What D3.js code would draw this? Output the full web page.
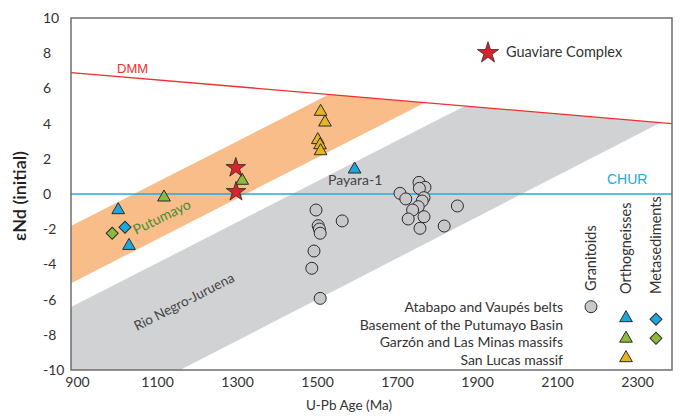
<!DOCTYPE html>
<html>
<head>
<meta charset="utf-8">
<script src="https://cdn.jsdelivr.net/npm/d3@7"></script>
<style>
  html, body { margin: 0; padding: 0; background: #fff; }
  svg { display: block; font-family: Lato, "Open Sans", sans-serif; }
</style>
</head>
<body>
<svg id="chart" width="683" height="416"></svg>
<script>
// Axis ticks
const ageTicks = [900, 1100, 1300, 1500, 1700, 1900, 2100, 2300];
const epsTicks = [10, 8, 6, 4, 2, 0, -2, -4, -6, -8, -10];

// Reference evolution lines [age Ma, εNd]
const dmmLine = [[885, 6.9], [2387.5, 4.0]];
const churLine = [[885, 0], [2387.5, 0]];

// Crustal envelopes: upper and lower bounding lines
const putumayoUpper = [[885, -1.82], [1900, 9.95]];
const putumayoLower = [[885, -5.07], [1900, 6.70]];
const rioNegroUpper = [[885, -6.42], [2400, 11.15]];
const rioNegroLower = [[885, -13.19], [2400, 4.54]];

// Atabapo and Vaupés belts — granitoids
const atabapoAge = [1497.5, 1563, 1503, 1506, 1508, 1492.5, 1487, 1508,
                    1755, 1770, 1756, 1707.5, 1722, 1767.5, 1763, 1753, 1739, 1851, 1728, 1767.5, 1757.5, 1818];
const atabapoEps = [-0.91, -1.53, -1.80, -1.99, -2.23, -3.24, -4.22, -5.93,
                    0.66, 0.38, 0.32, 0.04, -0.28, -0.21, -0.40, -0.72, -0.91, -0.68, -1.42, -1.29, -1.95, -1.82];

// Basement of the Putumayo Basin
const putumayoOrthoAge = [1003, 1030, 1594];
const putumayoOrthoEps = [-0.91, -2.94, 1.40];
const putumayoMetaAge = [1020];
const putumayoMetaEps = [-1.89];

// Garzón and Las Minas massifs
const garzonOrthoAge = [1117.5, 1313];
const garzonOrthoEps = [-0.19, 0.76];
const garzonMetaAge = [988];
const garzonMetaEps = [-2.23];

// San Lucas massif
const sanLucasOrthoAge = [1509, 1520, 1502, 1507.5, 1509];
const sanLucasOrthoEps = [4.68, 4.07, 3.07, 2.78, 2.44];

// Guaviare Complex
const guaviareAge = [1297, 1297.5];
const guaviareEps = [1.49, 0.13];

const legendRows = ["Atabapo and Vaupés belts", "Basement of the Putumayo Basin",
                    "Garzón and Las Minas massifs", "San Lucas massif"];
const legendCols = ["Granitoids", "Orthogneisses", "Metasediments"];

const C = {
  blue: "#1ea7df", green: "#8cba3c", yellow: "#e6b422", red: "#d9222b",
  grayPt: "#c8c8ca", orange: "#f8bd89", grayBand: "#d1d2d4",
  dmm: "#ee2f2f", chur: "#25a8de", stroke: "#2b2b2b"
};

const svg = d3.select("#chart");
const L = 71, R = 672, T = 18, B = 370;
const x = d3.scaleLinear().domain([885, 2387.5]).range([L, R]);
const y = d3.scaleLinear().domain([-10, 10]).range([B, T]);

// Clip to the plot area below the DMM curve
svg.append("clipPath").attr("id", "belowDmm")
  .append("polygon")
  .attr("points", [
    [x(dmmLine[0][0]), y(dmmLine[0][1])],
    [x(dmmLine[1][0]), y(dmmLine[1][1])],
    [x(dmmLine[1][0]), y(-10)],
    [x(dmmLine[0][0]), y(-10)]
  ].map(p => p.join(",")).join(" "));

function band(upper, lower, fill) {
  const pts = [upper[0], upper[1], lower[1], lower[0]];
  svg.append("polygon")
    .attr("clip-path", "url(#belowDmm)")
    .attr("points", pts.map(p => [x(p[0]), y(p[1])].join(",")).join(" "))
    .attr("fill", fill);
}
band(rioNegroUpper, rioNegroLower, C.grayBand);
band(putumayoUpper, putumayoLower, C.orange);

const line = d3.line().x(d => x(d[0])).y(d => y(d[1]));
svg.append("path").attr("d", line(dmmLine)).attr("stroke", C.dmm).attr("stroke-width", 1.3).attr("fill", "none");
svg.append("path").attr("d", line(churLine)).attr("stroke", C.chur).attr("stroke-width", 1.3).attr("fill", "none");

// Frame
svg.append("rect").attr("x", L).attr("y", T).attr("width", R - L).attr("height", B - T)
  .attr("fill", "none").attr("stroke", "#6d6d6d").attr("stroke-width", 1.5);

// Axes
const xAxis = svg.append("g").attr("transform", `translate(0,${B})`)
  .call(d3.axisBottom(x).tickValues(ageTicks).tickSize(0).tickPadding(7).tickFormat(d3.format("d")));
xAxis.select(".domain").remove();
xAxis.selectAll("text").attr("font-size", 14).attr("fill", "#333").attr("font-family", "Lato, sans-serif");

const yAxis = svg.append("g").attr("transform", `translate(${L},0)`)
  .call(d3.axisLeft(y).tickValues(epsTicks).tickSize(0).tickFormat(d3.format("d")));
yAxis.select(".domain").remove();
yAxis.selectAll("text").attr("font-size", 14).attr("fill", "#333").attr("font-family", "Lato, sans-serif")
  .attr("text-anchor", "start").attr("x", 43 - L).text(d => d < 0 ? "-" + Math.abs(d) : d);

svg.append("text").attr("x", 349).attr("y", 410).attr("text-anchor", "middle")
  .attr("font-size", 13.5).attr("fill", "#333").text("U-Pb Age (Ma)");
svg.append("text").attr("transform", "translate(26,196) rotate(-90)").attr("text-anchor", "middle")
  .attr("font-size", 18).attr("font-weight", 600).attr("fill", "#222").text("εNd (initial)");

// Line labels
svg.append("text").attr("x", 117).attr("y", 73).attr("font-family", "'Liberation Sans', Arial, sans-serif")
  .attr("font-size", 13).attr("fill", C.dmm).text("DMM");
svg.append("text").attr("x", 607).attr("y", 184).attr("font-family", "'Liberation Sans', Arial, sans-serif")
  .attr("font-size", 14).attr("fill", C.chur).text("CHUR");
svg.append("text").attr("x", 328).attr("y", 185).attr("font-size", 14).attr("fill", "#444").text("Payara-1");
svg.append("text").attr("transform", "translate(136,235) rotate(-26)")
  .attr("font-size", 14).attr("fill", "#4a8a35").text("Putumayo");
svg.append("text").attr("transform", "translate(137,331) rotate(-27)")
  .attr("font-size", 13.5).attr("fill", "#444").text("Rio Negro-Juruena");

// Markers
const sym = (type, size) => d3.symbol().type(type).size(size)();
function plotPoints(ages, eps, kind, fill) {
  const g = svg.append("g");
  ages.forEach((a, i) => {
    const cx = x(a), cy = y(eps[i]);
    if (kind === "circle") {
      g.append("circle").attr("cx", cx).attr("cy", cy).attr("r", 6)
        .attr("fill", fill).attr("stroke", C.stroke).attr("stroke-width", 1);
    } else if (kind === "triangle") {
      g.append("path").attr("d", sym(d3.symbolTriangle, 70)).attr("transform", `translate(${cx},${cy})`)
        .attr("fill", fill).attr("stroke", C.stroke).attr("stroke-width", 1);
    } else if (kind === "diamond") {
      g.append("path").attr("d", sym(d3.symbolSquare, 72)).attr("transform", `translate(${cx},${cy}) rotate(45)`)
        .attr("fill", fill).attr("stroke", C.stroke).attr("stroke-width", 1);
    } else if (kind === "star") {
      g.append("path").attr("d", sym(d3.symbolStar, 120)).attr("transform", `translate(${cx},${cy})`)
        .attr("fill", fill).attr("stroke", C.stroke).attr("stroke-width", 0.8);
    }
  });
}
plotPoints(atabapoAge, atabapoEps, "circle", C.grayPt);
plotPoints(sanLucasOrthoAge, sanLucasOrthoEps, "triangle", C.yellow);
plotPoints(garzonOrthoAge, garzonOrthoEps, "triangle", C.green);
plotPoints(guaviareAge, guaviareEps, "star", C.red);
plotPoints(putumayoOrthoAge, putumayoOrthoEps, "triangle", C.blue);
plotPoints(putumayoMetaAge, putumayoMetaEps, "diamond", C.blue);
plotPoints(garzonMetaAge, garzonMetaEps, "diamond", C.green);

// Guaviare legend
svg.append("path").attr("d", sym(d3.symbolStar, 140)).attr("transform", "translate(488,53)")
  .attr("fill", C.red).attr("stroke", C.stroke).attr("stroke-width", 0.8);
svg.append("text").attr("x", 506).attr("y", 57).attr("font-size", 14.5).attr("fill", "#333").text("Guaviare Complex");

// Lithology legend
const rowY = [312, 329.5, 347, 364.5];
const colX = [591, 626, 656];
legendRows.forEach((t, i) => {
  svg.append("text").attr("x", 563).attr("y", rowY[i]).attr("text-anchor", "end")
    .attr("font-size", 14).attr("fill", "#333").text(t);
});
legendCols.forEach((t, i) => {
  svg.append("text").attr("transform", `translate(${colX[i]},${i === 0 ? 291 : 294}) rotate(-90)`)
    .attr("dy", "0.35em").attr("font-size", 14.5).attr("fill", "#333").text(t);
});
const legendMarks = [
  [0, 306.7, "circle", C.grayPt],
  [1, 318, "triangle", C.blue], [1, 338.5, "triangle", C.green], [1, 358, "triangle", C.yellow],
  [2, 319.3, "diamond", C.blue], [2, 338.3, "diamond", C.green]
];
legendMarks.forEach(([c, yy, kind, fill]) => {
  const cx = colX[c];
  if (kind === "circle") {
    svg.append("circle").attr("cx", cx).attr("cy", yy).attr("r", 6)
      .attr("fill", fill).attr("stroke", C.stroke).attr("stroke-width", 1);
  } else if (kind === "triangle") {
    svg.append("path").attr("d", sym(d3.symbolTriangle, 70)).attr("transform", `translate(${cx},${yy})`)
      .attr("fill", fill).attr("stroke", C.stroke).attr("stroke-width", 1);
  } else {
    svg.append("path").attr("d", sym(d3.symbolSquare, 72)).attr("transform", `translate(${cx},${yy}) rotate(45)`)
      .attr("fill", fill).attr("stroke", C.stroke).attr("stroke-width", 1);
  }
});
</script>
</body>
</html>
